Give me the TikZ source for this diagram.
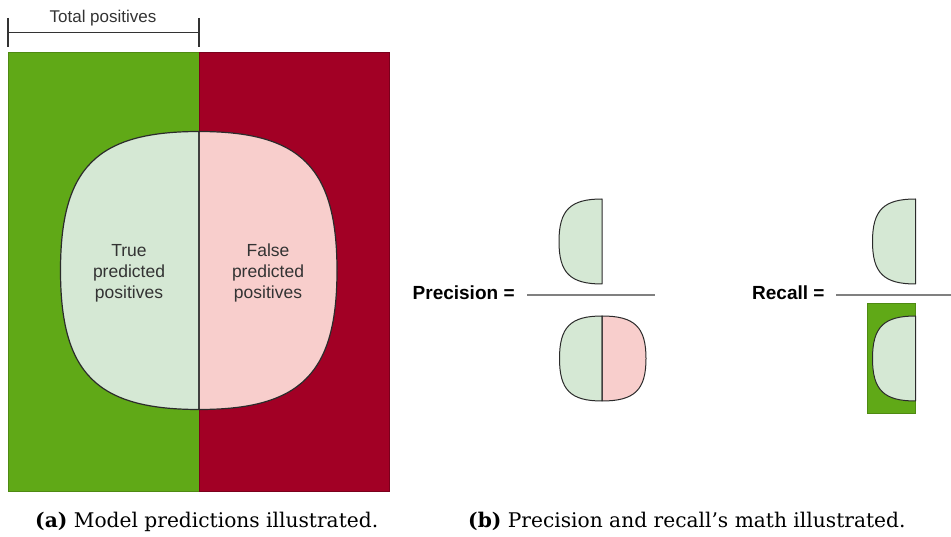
\documentclass[tikz,border=0pt]{standalone}
\usepackage{fontspec}
\newfontfamily\arialf{Liberation Sans}
\newfontfamily\capf{DejaVu Serif}
\definecolor{dgreen}{HTML}{60A917}
\definecolor{dgreenb}{HTML}{4E8A12}
\definecolor{dred}{HTML}{A20025}
\definecolor{dredb}{HTML}{7A001C}
\definecolor{lgreen}{HTML}{D5E8D4}
\definecolor{lred}{HTML}{F8CECC}
\definecolor{txtgray}{HTML}{333333}
\definecolor{edgegray}{HTML}{2B2B2B}
\definecolor{fracgray}{HTML}{808080}
\newcommand{\kk}{0.74}
% left half blob: center x, center y, half width, half height
\newcommand{\lefthalf}[4]{(#1,{#2-#4}) .. controls ({#1-\kk*#3},{#2-#4}) and ({#1-#3},{#2-\kk*#4}) .. ({#1-#3},#2) .. controls ({#1-#3},{#2+\kk*#4}) and ({#1-\kk*#3},{#2+#4}) .. (#1,{#2+#4}) -- cycle}
\newcommand{\righthalf}[4]{(#1,{#2-#4}) .. controls ({#1+\kk*#3},{#2-#4}) and ({#1+#3},{#2-\kk*#4}) .. ({#1+#3},#2) .. controls ({#1+#3},{#2+\kk*#4}) and ({#1+\kk*#3},{#2+#4}) .. (#1,{#2+#4}) -- cycle}
\tikzset{
  blobline/.style={draw=edgegray, line width=1.2pt, line join=round},
  blobtext/.style={font=\arialf\fontsize{17.5}{20.8}\selectfont, text=txtgray, align=center, inner sep=0pt},
  eqtext/.style={font=\arialf\bfseries\fontsize{19}{22}\selectfont, text=black, inner sep=0pt, anchor=base west},
  fracline/.style={draw=fracgray, line width=1.3pt},
  captext/.style={font=\capf\fontsize{20.2}{24}\selectfont, inner sep=0pt, anchor=base west},
}
\begin{document}
\begin{tikzpicture}[x=1pt,y=-1pt]
\useasboundingbox (0,0) rectangle (951,537);
% bracket
\draw[txtgray, line width=1.2pt] (8,32.5) -- (199,32.5);
\draw[txtgray, line width=1.2pt] (8,18) -- (8,47);
\draw[txtgray, line width=1.2pt] (199,18) -- (199,47);
\node[font=\arialf\fontsize{17}{20}\selectfont, text=txtgray, inner sep=0pt, anchor=base] (tp) at (103,23) {Total positives};
% main rectangle
\fill[dgreen] (8,52) rectangle (199,491);
\fill[dred] (199,52) rectangle (389,491);
\draw[dgreenb, line width=0.5pt] (8,52) rectangle (199,491);
\draw[dredb, line width=0.5pt] (199,52) rectangle (389,491);
% big blob
\fill[lgreen] \lefthalf{199}{270.5}{138.5}{139};
\fill[lred] \righthalf{199}{270.5}{138}{139};
\draw[blobline] \lefthalf{199}{270.5}{138.5}{139};
\draw[blobline] \righthalf{199}{270.5}{138}{139};
\node[blobtext, anchor=base] (tpp) at (129,298.3) {True\\predicted\\positives};
\node[blobtext, anchor=base] (fpp) at (268,298.3) {False\\predicted\\positives};
% precision
\node[eqtext] (prec) at (412.5,300) {Precision =};
\draw[fracline] (527,295) -- (655,295);
\fill[lgreen] \lefthalf{602}{241.5}{43}{42.5};
\draw[blobline, line width=1pt] \lefthalf{602}{241.5}{43}{42.5};
\fill[lgreen] \lefthalf{602}{358.5}{42.5}{42.5};
\fill[lred] \righthalf{602}{358.5}{44}{42.5};
\draw[blobline, line width=1pt] \lefthalf{602}{358.5}{42.5}{42.5};
\draw[blobline, line width=1pt] \righthalf{602}{358.5}{44}{42.5};
% recall
\node[eqtext] (rec) at (752,299.5) {Recall =};
\draw[fracline] (836,295) -- (951,295);
\fill[lgreen] \lefthalf{915.5}{241.5}{43}{42.5};
\draw[blobline, line width=1pt] \lefthalf{915.5}{241.5}{43}{42.5};
\fill[dgreen] (867,303) rectangle (915.5,413);
\draw[dgreenb, line width=0.6pt] (867,303) rectangle (915.5,413);
\fill[lgreen] \lefthalf{915.5}{358.5}{43}{42.5};
\draw[blobline, line width=1pt] \lefthalf{915.5}{358.5}{43}{42.5};
% captions
\node[captext] (capa) at (35,527.3) {\textbf{(a)} Model predictions illustrated.};
\node[captext] (capb) at (468,527.3) {\textbf{(b)} Precision and recall’s math illustrated.};
\end{tikzpicture}
\end{document}
